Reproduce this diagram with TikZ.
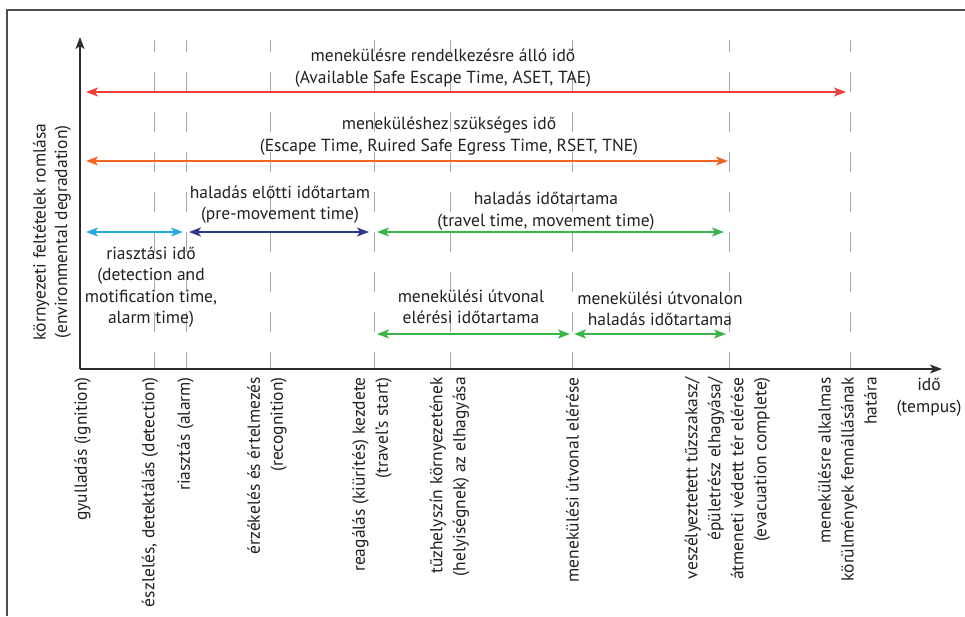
\documentclass[tikz,border=0pt]{standalone}
\usepackage{fontspec}
\setmainfont{PT Sans}
\usetikzlibrary{arrows.meta}
\definecolor{txt}{RGB}{35,31,32}
\definecolor{framegray}{RGB}{80,80,80}
\definecolor{axisgray}{RGB}{45,45,45}
\definecolor{gridgray}{RGB}{170,170,172}
\definecolor{asetred}{RGB}{238,62,58}
\definecolor{rsetorange}{RGB}{242,101,34}
\definecolor{alarmblue}{RGB}{41,171,226}
\definecolor{premove}{RGB}{43,57,144}
\definecolor{travelgreen}{RGB}{57,181,74}
\begin{document}
\begin{tikzpicture}[x=1pt,y=-1pt,
  lbl/.style={text=txt,font=\fontsize{17.5}{21.5}\selectfont,align=center,inner sep=0pt},
  vlbl/.style={text=txt,font=\fontsize{17.5}{23}\selectfont,rotate=90,anchor=east,align=right,inner sep=0pt},
  guide/.style={draw=gridgray,line width=1pt,dash pattern=on 20pt off 20pt,dash phase=8pt},
  tip/.tip={Stealth[length=12pt,width=9pt,inset=3pt]},
  span/.style={line width=1.8pt,tip-tip},
  axis/.style={draw=axisgray,line width=1.5pt,-tip},
]
\useasboundingbox (0,0) rectangle (965,616);
% frame (cropped)
\draw[framegray,line width=1.5pt] (7,616) -- (7,10) -- (965,10);

% key instants
\coordinate (o) at (80,369);
\foreach \n/\x in {det/154,ala/186,rec/270,trv/374,fir/450,esc/572,evc/729,lim/850}{
  \coordinate (\n top) at (\x,40);
  \coordinate (\n bot) at (\x,369);
  \draw[guide] (\n top) -- (\n bot);
}

% axes
\coordinate (ytip) at (80,37);
\coordinate (xtip) at (942,369);
\draw[axis] (o) -- (ytip);
\draw[axis] (o) -- (xtip);

% span end points
\coordinate (aL) at (86,92);   \coordinate (aR) at (846,92);
\coordinate (rL) at (86,161);  \coordinate (rR) at (728,161);
\coordinate (b1L) at (86,232); \coordinate (b1R) at (183,232);
\coordinate (b2L) at (189,232); \coordinate (b2R) at (369,232);
\coordinate (b3L) at (377,232); \coordinate (b3R) at (724,232);
\coordinate (c1L) at (377,334); \coordinate (c1R) at (570,334);
\coordinate (c2L) at (574,334); \coordinate (c2R) at (726,334);

\draw[span,asetred] (aL) -- (aR);
\draw[span,rsetorange] (rL) -- (rR);
\draw[span,alarmblue] (b1L) -- (b1R);
\draw[span,premove] (b2L) -- (b2R);
\draw[span,travelgreen] (b3L) -- (b3R);
\draw[span,travelgreen] (c1L) -- (c1R);
\draw[span,travelgreen] (c2L) -- (c2R);

% span labels
\node[lbl] (laset) at (443,68) {menekülésre rendelkezésre álló idő\\(Available Safe Escape Time, ASET, TAE)};
\node[lbl] (lrset) at (449,136) {meneküléshez szükséges idő\\(Escape Time, Ruired Safe Egress Time, RSET, TNE)};
\node[lbl] (lpre) at (280,204.5) {haladás előtti időtartam\\(pre-movement time)};
\node[lbl] (ltrv) at (546,211) {haladás időtartama\\(travel time, movement time)};
\node[lbl] (lalarm) at (151,287) {riasztási idő\\(detection and\\motification time,\\alarm time)};
\node[lbl] (lreach) at (471,307) {menekülési útvonal\\elérési időtartama};
\node[lbl] (lroute) at (660,309) {menekülési útvonalon\\haladás időtartama};

% axis labels
\node[lbl,rotate=90] (ylab) at (52,232) {környezeti feltételek romlása\\(environmental degradation)};
\node[lbl] (xlab) at (929,397) {idő\\(tempus)};

% instant labels
\node[vlbl] (tign) at (82.5,377) {gyulladás (ignition)};
\node[vlbl] (tdet) at (150,377) {észlelés, detektálás (detection)};
\node[vlbl] (tala) at (185.5,377) {riasztás (alarm)};
\node[vlbl] (trec) at (267,377) {érzékelés és értelmezés\\(recognition)};
\node[vlbl] (ttrv) at (372,377) {reagálás (kiürítés) kezdete\\(travel’s start)};
\node[vlbl] (tfir) at (449.5,377) {tűzhelyszín környezetének\\(helyiségnek) az elhagyása};
\node[vlbl] (tesc) at (572.5,377) {menekülési útvonal elérése};
\node[vlbl] (tevc) at (727.5,377) {veszélyeztetett tűzszakasz/\\épületrész elhagyása/\\átmeneti védett tér elérése\\(evacuation complete)};
\node[vlbl] (tlim) at (847.5,377) {menekülésre alkalmas\\körülmények fennállásának\\határa};
\end{tikzpicture}
\end{document}
